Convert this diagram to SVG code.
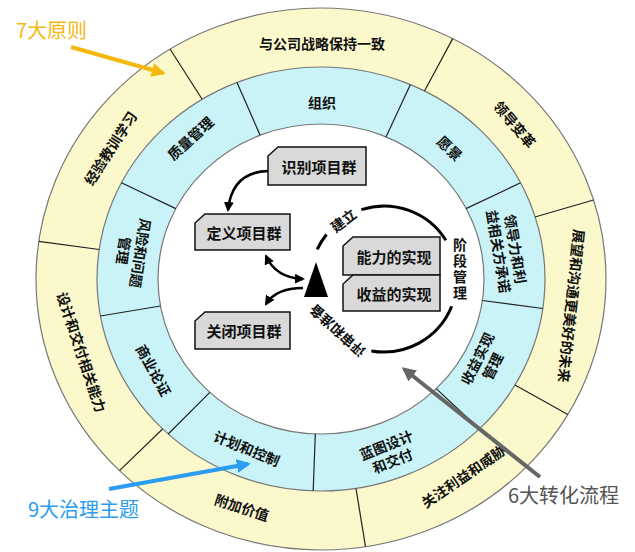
<svg xmlns="http://www.w3.org/2000/svg" width="635" height="552" viewBox="0 0 635 552">
<style>
.rt{font-family:"Noto Sans CJK SC","Noto Sans",sans-serif;font-size:14px;font-weight:bold;fill:#111;text-anchor:middle;dominant-baseline:central}
.bt{font-family:"Noto Sans CJK SC","Noto Sans",sans-serif;font-size:15px;font-weight:bold;fill:#111;text-anchor:middle;dominant-baseline:central}
.div{stroke:#222;stroke-width:1.2}
.box{fill:#d9d9d9;stroke:#111;stroke-width:1.5}
.arc{fill:none;stroke:#000;stroke-width:3}
.ar{fill:none;stroke:#000;stroke-width:2.5}
.cl{font-family:"Noto Sans CJK SC","Noto Sans",sans-serif;font-size:20px}
</style>
<defs>
<marker id="ah" viewBox="0 0 10 10" refX="8" refY="5" markerWidth="4" markerHeight="4" orient="auto-start-reverse"><path d="M0,0L10,5L0,10Z" fill="#000"/></marker>
<marker id="ao" viewBox="0 0 10 10" refX="8" refY="5" markerWidth="3.5" markerHeight="3.5" orient="auto"><path d="M0,0L10,5L0,10Z" fill="#f5b810"/></marker>
<marker id="ab" viewBox="0 0 10 10" refX="8" refY="5" markerWidth="3.5" markerHeight="3.5" orient="auto"><path d="M0,0L10,5L0,10Z" fill="#2b9cf0"/></marker>
<marker id="ag" viewBox="0 0 10 10" refX="8" refY="5" markerWidth="3.5" markerHeight="3.5" orient="auto"><path d="M0,0L10,5L0,10Z" fill="#666"/></marker>
</defs>
<rect width="635" height="552" fill="#fff"/>
<g id="rings">
<ellipse cx="321" cy="279" rx="285" ry="271" fill="#fbf8cc" stroke="#777" stroke-width="1.2"/>
<ellipse cx="321" cy="279" rx="224" ry="212" fill="#c9f3f6" stroke="#777" stroke-width="1.2"/>
<ellipse cx="321" cy="279" rx="163" ry="155" fill="#fff" stroke="#777" stroke-width="1.2"/>
</g>
<g id="dividers">
<line class="div" x1="202" y1="99" x2="170" y2="49"/>
<line class="div" x1="424.5" y1="91" x2="452.7" y2="38.6"/>
<line class="div" x1="535" y1="217" x2="593.5" y2="200"/>
<line class="div" x1="515" y1="385" x2="567.8" y2="414.5"/>
<line class="div" x1="356" y1="488.5" x2="365.5" y2="546.7"/>
<line class="div" x1="162.6" y1="429" x2="119.5" y2="470.6"/>
<line class="div" x1="99.2" y1="249.5" x2="38.8" y2="241.3"/>
<line class="div" x1="260" y1="135" x2="237" y2="82.5"/>
<line class="div" x1="386" y1="137" x2="410.4" y2="84.6"/>
<line class="div" x1="466" y1="208.6" x2="520.6" y2="182.8"/>
<line class="div" x1="482.4" y1="300.5" x2="542.8" y2="308.5"/>
<line class="div" x1="436.2" y1="388.6" x2="479.4" y2="429"/>
<line class="div" x1="315.3" y1="434" x2="313.2" y2="490.8"/>
<line class="div" x1="209.8" y1="392.3" x2="168.2" y2="434"/>
<line class="div" x1="160.4" y1="306" x2="100.4" y2="316"/>
<line class="div" x1="175.8" y1="208.6" x2="121.4" y2="182.8"/>
</g>
<g id="principles">
<text class="rt" x="322" y="43">与公司战略保持一致</text>
<text class="rt" transform="translate(515,124) rotate(50)">领导变革</text>
<text class="rt" transform="translate(572,306) rotate(96)">展望和沟通更美好的未来</text>
<text class="rt" transform="translate(463,476) rotate(-34.5)">关注利益和威胁</text>
<text class="rt" transform="translate(242,507) rotate(18)">附加价值</text>
<text class="rt" transform="translate(82,352) rotate(71.5)">设计和交付相关能力</text>
<text class="rt" transform="translate(110,148) rotate(-57)">经验教训学习</text>
</g>
<g id="themes">
<text class="rt" x="322" y="102">组织</text>
<text class="rt" transform="translate(450,148) rotate(43)">愿景</text>
<text class="rt" transform="translate(508,250) rotate(80.5)"><tspan x="0" dy="-8">领导力和利</tspan><tspan x="0" dy="17">益相关方承诺</tspan></text>
<text class="rt" transform="translate(484,362) rotate(-63.5)"><tspan x="0" dy="-8">收益实现</tspan><tspan x="0" dy="17">管理</tspan></text>
<text class="rt" transform="translate(389,452) rotate(-21.5)"><tspan x="0" dy="-8">蓝图设计</tspan><tspan x="0" dy="17">和交付</tspan></text>
<text class="rt" transform="translate(247,448) rotate(22.5)">计划和控制</text>
<text class="rt" transform="translate(154,370) rotate(61.5)">商业论证</text>
<text class="rt" transform="translate(133,252) rotate(98.5)"><tspan x="0" dy="-8">风险和问题</tspan><tspan x="0" dy="17">管理</tspan></text>
<text class="rt" transform="translate(190,138) rotate(-42.5)">质量管理</text>
</g>
<g id="boxes">
<g id="identify"><path class="box" d="M278,147H366V185H268V156Z"/><text class="bt" x="319" y="166">识别项目群</text></g>
<g id="define"><path class="box" d="M205,214H290V250H195V223Z"/><text class="bt" x="244" y="232">定义项目群</text></g>
<g id="close"><path class="box" d="M205,312H290V349H195V321Z"/><text class="bt" x="244" y="330">关闭项目群</text></g>
<g id="capability"><path class="box" d="M353,237H440V275H343V246Z"/><text class="bt" x="394" y="256">能力的实现</text></g>
<g id="benefit"><path class="box" d="M353,275H440V311H343V284Z"/><text class="bt" x="394" y="293">收益的实现</text></g>
<path id="triangle" d="M316,262L328,297H304Z" fill="#000"/>
</g>
<g id="connectors">
<path class="ar" d="M268,171Q232,172 228,210" marker-end="url(#ah)"/>
<path class="ar" d="M266,256Q276,278 303,279" marker-start="url(#ah)" marker-end="url(#ah)"/>
<path class="ar" d="M303,288Q276,288 266,304" marker-end="url(#ah)"/>
<path class="arc" d="M317.2,249.3A73,73 0 0 1 326.5,234.5"/>
<path class="arc" d="M361.4,209.6A73,73 0 0 1 445.9,240.3"/>
<path class="arc" d="M451.7,306.3A73,73 0 0 1 371.3,350.9"/>
<text class="rt" transform="translate(343,220) rotate(-37)">建立</text>
<text class="rt" x="460" y="270" style="writing-mode:vertical-rl;text-orientation:upright;letter-spacing:2px">阶段管理</text>
<text class="rt" transform="translate(337,331) rotate(222)">评审和准备</text>
</g>
<g id="callouts">
<text class="cl" x="16" y="38" fill="#f5b810">7大原则</text>
<line x1="71" y1="47" x2="163" y2="73" stroke="#f5b810" stroke-width="4" marker-end="url(#ao)"/>
<text class="cl" x="28" y="517" fill="#2b9cf0">9大治理主题</text>
<line x1="109" y1="489" x2="248" y2="464" stroke="#2b9cf0" stroke-width="4" marker-end="url(#ab)"/>
<text class="cl" x="508" y="503" fill="#555">6大转化流程</text>
<line x1="540" y1="477" x2="404" y2="369" stroke="#666" stroke-width="4" marker-end="url(#ag)"/>
</g>
</svg>
